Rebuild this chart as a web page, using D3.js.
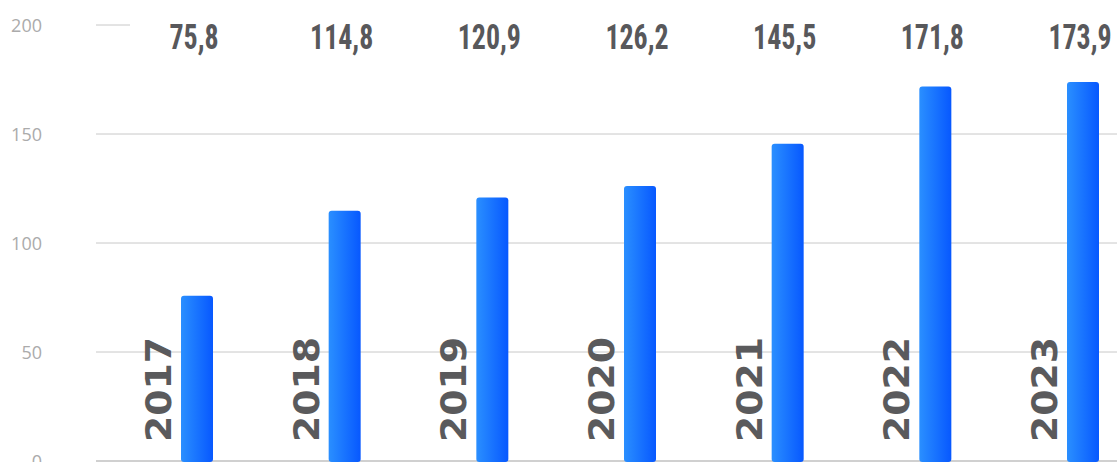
<!DOCTYPE html>
<html><head><meta charset="utf-8">
<script src="https://cdn.jsdelivr.net/npm/d3@7"></script>
<style>html,body{margin:0;padding:0;background:#fff;overflow:hidden}</style>
</head><body>
<svg id="c" width="1117" height="462"></svg>
<script>
const years = ["2017","2018","2019","2020","2021","2022","2023"];
const values = [75.8,114.8,120.9,126.2,145.5,171.8,173.9];
const valueLabels = ["75,8","114,8","120,9","126,2","145,5","171,8","173,9"];
const yTicks = [0,50,100,150,200];

const svg = d3.select("#c");
const defs = svg.append("defs");
const g = defs.append("linearGradient").attr("id","bg").attr("x1","0").attr("x2","1").attr("y1","0").attr("y2","0");
g.append("stop").attr("offset","0").attr("stop-color","#2a8fff");
g.append("stop").attr("offset","1").attr("stop-color","#0758ff");

const x = d3.scalePoint().domain(years).range([197,1083]);
const y = d3.scaleLinear().domain([0,200]).range([461,25]);
const left = 96, right = 1117;

svg.selectAll("line.grid").data(yTicks).join("line")
  .attr("x1", left)
  .attr("x2", d => d===200 ? 130 : right)
  .attr("y1", d => y(d)).attr("y2", d => y(d))
  .attr("stroke", d => d===0 ? "#d0d0d0" : "#c8c8c8")
  .attr("stroke-width", d => d===0 ? 2 : 1);

svg.selectAll("text.tick").data(yTicks).join("text")
  .attr("x", 42).attr("y", d => y(d)+7)
  .attr("text-anchor","end")
  .attr("font-family","'Open Sans', sans-serif").attr("font-size",18)
  .attr("fill","#ababab").text(d => d);

const bw = 32;
svg.selectAll("rect.bar").data(values).join("rect")
  .attr("x", (d,i) => x(years[i]) - bw/2)
  .attr("y", d => y(d))
  .attr("width", bw)
  .attr("height", d => y(0) - y(d) + 1)
  .attr("rx", 3).attr("ry", 3)
  .attr("fill","url(#bg)");

svg.selectAll("text.val").data(valueLabels).join("text")
  .attr("transform", (d,i) => `translate(${x(years[i]) - 3},49) scale(0.9,1.15)`)
  .attr("text-anchor","middle")
  .attr("font-family","'Liberation Sans Narrow', 'Roboto Condensed', sans-serif")
  .attr("font-weight","bold").attr("font-size",31)
  .attr("font-stretch","condensed")
  .attr("fill","#58585b").text(d => d);

svg.selectAll("text.year").data(years).join("text")
  .attr("transform", d => `translate(${x(d)-26},442) rotate(-90) scale(1.08,1)`)
  .attr("text-anchor","start")
  .attr("font-family","'DejaVu Sans', sans-serif")
  .attr("font-weight","bold").attr("font-size",35)
  .attr("fill","#5a5a5c").text(d => d);
</script>
</body></html>
